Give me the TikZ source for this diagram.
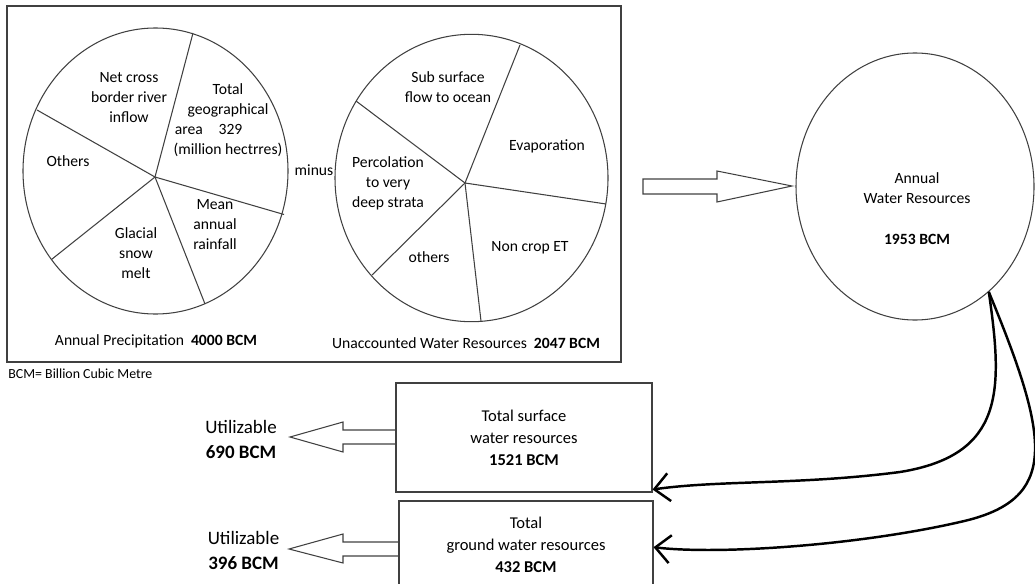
\documentclass[tikz,border=0pt]{standalone}
\usepackage{fontspec}
\setmainfont{Carlito}
\usetikzlibrary{shapes.geometric,arrows.meta}

\begin{document}
\begin{tikzpicture}[scale=0.2,
  pie/.style={black!75, line width=0.6pt},
  lbl/.style={font=\fontsize{8.9}{11.4}\selectfont, align=center},
  boxtxt/.style={draw=black!75, line width=0.6pt, font=\fontsize{9.4}{12.5}\selectfont, align=center},
  util/.style={font=\fontsize{10.8}{14.2}\selectfont, align=center},
  hollow/.style={black!75, line width=0.6pt, line join=miter},
  flow/.style={black, line width=1.4pt, -{Straight Barb[length=3mm,width=5.6mm]}}]
\tikzstyle{every node}+=[inner sep=0pt]
\useasboundingbox (0,0) rectangle (103.5,-58.4);
\draw [pie] (0.7,-0.6) rectangle (62.1,-36.2);
% precipitation pie
\draw [pie] (15.55,-17.1) ellipse (13.25 and 14.3);
\draw [pie] (15.5,-17.7) -- (19.3,-3.3);
\draw [pie] (15.5,-17.7) -- (3.7,-11.0);
\draw [pie] (15.5,-17.7) -- (5.15,-25.95);
\draw [pie] (15.5,-17.7) -- (20.5,-30.4);
\draw [pie] (15.5,-17.7) -- (28.4,-21.45);
\draw (12.9,-9.8) node [lbl] (netflow) {Net cross\\border river\\inflow};
\draw (22.8,-12.0) node [lbl] (geoarea) {Total\\geographical\\area\quad 329\makebox[22pt]{}\\(million hectrres)};
\draw (6.8,-16.1) node [lbl] (others) {Others};
\draw (21.5,-22.5) node [lbl] (rainfall) {Mean\\annual\\rainfall};
\draw (13.6,-25.3) node [lbl] (snowmelt) {Glacial\\snow\\melt};
\draw (15.6,-34.1) node [lbl] (precip) {Annual Precipitation~ \textbf{4000 BCM}};
\draw (31.4,-17.0) node [lbl] (minus) {minus};
% unaccounted pie
\draw [pie] (47.15,-17.8) ellipse (13.65 and 14.37);
\draw [pie] (46.5,-18.3) -- (52.0,-4.5);
\draw [pie] (46.5,-18.3) -- (35.6,-10.1);
\draw [pie] (46.5,-18.3) -- (37.2,-27.5);
\draw [pie] (46.5,-18.3) -- (48.1,-32.1);
\draw [pie] (46.5,-18.3) -- (60.6,-20.4);
\draw (44.8,-8.7) node [lbl] (subflow) {Sub surface\\flow to ocean};
\draw (54.7,-14.6) node [lbl] (evap) {Evaporation};
\draw (38.8,-18.3) node [lbl] (percol) {Percolation\\to very\\deep strata};
\draw (42.9,-25.7) node [lbl] (othersr) {others};
\draw (53.0,-24.8) node [lbl] (nonet) {Non crop ET};
\draw (46.6,-34.3) node [lbl] (unacc) {Unaccounted Water Resources~ \textbf{2047 BCM}};
\draw (0.8,-37.4) node [anchor=west, font=\fontsize{7.9}{9}\selectfont] (bcmnote) {BCM= Billion Cubic Metre};
% annual water resources
\draw [hollow] (64.3,-17.9) -- (71.7,-17.9) -- (71.7,-17.1) -- (79.2,-18.6) -- (71.7,-20.2) -- (71.7,-19.4) -- (64.3,-19.4) -- cycle;
\node [draw=black!75, line width=0.6pt, ellipse, minimum width=4.76cm, minimum height=5.34cm] (awr) at (91.5,-18.65) {};
\draw (91.7,-20.9) node [lbl] (awrtxt) {Annual\\Water Resources\\[12pt]\textbf{1953 BCM}};
% surface and ground water
\node [boxtxt, minimum width=5.12cm, minimum height=2.18cm] (sw) at (52.4,-43.75) {Total surface\\water resources\\\textbf{1521 BCM}};
\node [boxtxt, minimum width=5.08cm, minimum height=1.74cm] (gw) at (52.6,-54.45) {Total\\ground water resources\\\textbf{432 BCM}};
\draw (24.1,-43.95) node [util] (util1) {Utilizable\\\textbf{690 BCM}};
\draw (24.35,-55.05) node [util] (util2) {Utilizable\\\textbf{396 BCM}};
\draw [hollow] (39.6,-43.0) -- (34.3,-43.0) -- (34.3,-42.2) -- (29.0,-43.7) -- (34.3,-45.2) -- (34.3,-44.4) -- (39.6,-44.4);
\draw [hollow] (39.9,-54.2) -- (34.3,-54.2) -- (34.3,-53.4) -- (28.9,-54.9) -- (34.3,-56.3) -- (34.3,-55.6) -- (39.9,-55.6);
\draw [flow] (awr.-55) .. controls (100.3,-39.0) and (100.5,-45.5) .. (90.0,-47.2) .. controls (80.0,-48.5) and (72.0,-48.0) .. ([yshift=3mm]sw.south east);
\draw [flow] (awr.-55) .. controls (105.0,-44.0) and (106.0,-50.0) .. (96.0,-52.2) .. controls (86.0,-54.5) and (72.0,-55.5) .. ([yshift=-2.7mm]gw.east);
\end{tikzpicture}
\end{document}
